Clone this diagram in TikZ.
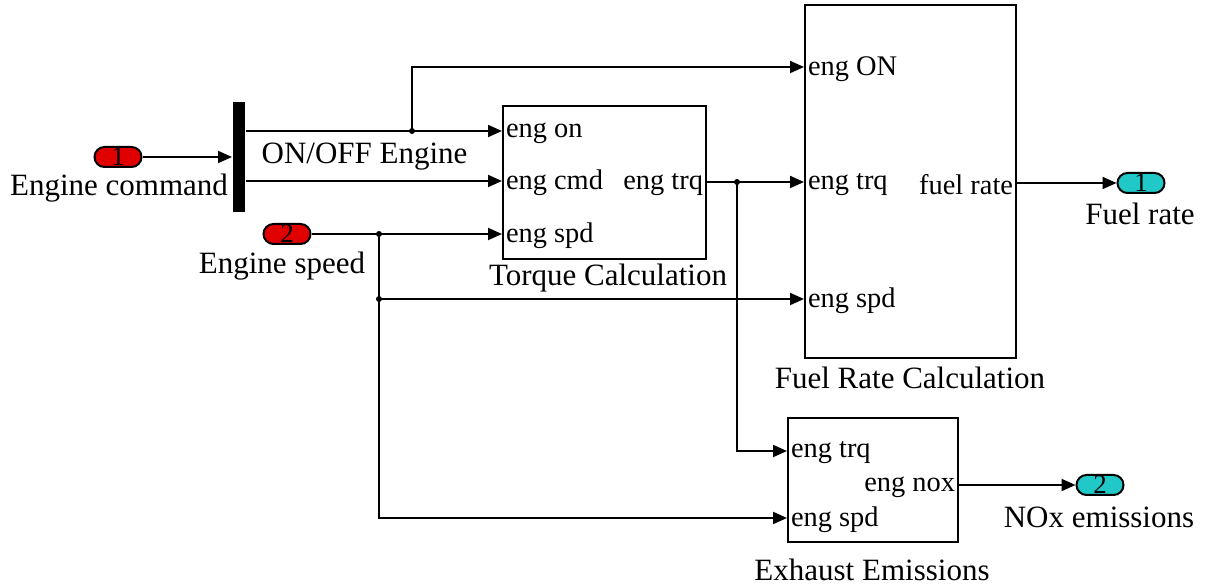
\documentclass[tikz,border=0pt]{standalone}
\usepackage{fontspec}
\setmainfont{Liberation Serif}
\usetikzlibrary{arrows.meta}

\definecolor{inred}{RGB}{224,0,0}
\definecolor{outcyan}{RGB}{32,200,200}

\begin{document}
\begin{tikzpicture}[x=0.5pt, y=-0.5pt, line width=1pt,
    font=\fontsize{15.5}{18}\selectfont,
    block/.style={draw, line width=1pt, inner sep=0pt},
    inport/.style={draw, fill=inred, rounded corners=5pt, minimum width=23.5pt,
      minimum height=10pt, inner sep=0pt, font=\fontsize{13.5}{13.5}\selectfont},
    outport/.style={inport, fill=outcyan},
    portname/.style={inner sep=1.5pt, yshift=-1pt, font=\fontsize{14.2}{16}\selectfont},
    sig/.style={-{Triangle[length=7pt,width=6pt]}},
    dot/.style={fill, circle, inner sep=0pt, minimum size=3pt}]
  \useasboundingbox (0,0) rectangle (1205,587);

  % in and out ports with their names
  \node[inport] (in1) at (118,157) {1};
  \node (in1lbl) at (119,188) {Engine command};
  \node[inport] (in2) at (287,234) {2};
  \node (in2lbl) at (282,266) {Engine speed};
  \node[outport] (out1) at (1141,183) {1};
  \node (out1lbl) at (1140,214) {Fuel rate};
  \node[outport] (out2) at (1100,485) {2};
  \node (out2lbl) at (1099,517) {NOx emissions};

  % demux bar
  \node[fill, minimum width=6pt, minimum height=55pt, inner sep=0pt] (mux) at (239,157) {};
  \node[anchor=west] (muxlbl) at (254,157) {ON/OFF Engine};

  % subsystem blocks
  \node[block, minimum width=101.5pt, minimum height=76.5pt] (trq) at (604.5,182.5) {};
  \node (trqlbl) at (608,278) {Torque Calculation};
  \node[block, minimum width=105.5pt, minimum height=176.5pt] (fuel) at (910.5,181.5) {};
  \node (fuellbl) at (910,378) {Fuel Rate Calculation};
  \node[block, minimum width=85pt, minimum height=62pt] (exh) at (873,480) {};
  \node (exhlbl) at (872,570) {Exhaust Emissions};

  % port names inside the blocks
  \foreach \blk/\y/\txt in {trq/131/eng on, trq/181/eng cmd, trq/234/eng spd,
      fuel/67/eng ON, fuel/183/eng trq, fuel/299/eng spd,
      exh/451/eng trq, exh/518/eng spd}
    \node[anchor=west, portname] at (\blk.west |- 0,\y) {\txt};
  \foreach \blk/\y/\txt in {trq/183/eng trq, fuel/183/fuel rate, exh/485/eng nox}
    \node[anchor=east, portname] at (\blk.east |- 0,\y) {\txt};

  % branch points
  \coordinate (j1) at (412,131);
  \coordinate (j2) at (379,234);
  \coordinate (j3) at (379,299);
  \coordinate (j4) at (737,182);
  \foreach \j in {j1,j2,j3,j4}
    \node[dot] at (\j) {};

  % signals
  \draw[sig] (in1.east) -- (mux.west);
  \draw[sig] (mux.east |- 0,131) -- (trq.west |- 0,131);
  \draw[sig] (j1) |- (fuel.west |- 0,67);
  \draw[sig] (mux.east |- 0,181) -- (trq.west |- 0,181);
  \draw[sig] (in2.east) -- (trq.west |- 0,234);
  \draw (j2) -- (j3);
  \draw[sig] (j3) -- (fuel.west |- 0,299);
  \draw[sig] (j3) |- (exh.west |- 0,518);
  \draw[sig] (trq.east |- 0,182) -- (fuel.west |- 0,182);
  \draw[sig] (j4) |- (exh.west |- 0,451);
  \draw[sig] (fuel.east |- 0,183) -- (out1.west);
  \draw[sig] (exh.east |- 0,485) -- (out2.west);
\end{tikzpicture}
\end{document}
